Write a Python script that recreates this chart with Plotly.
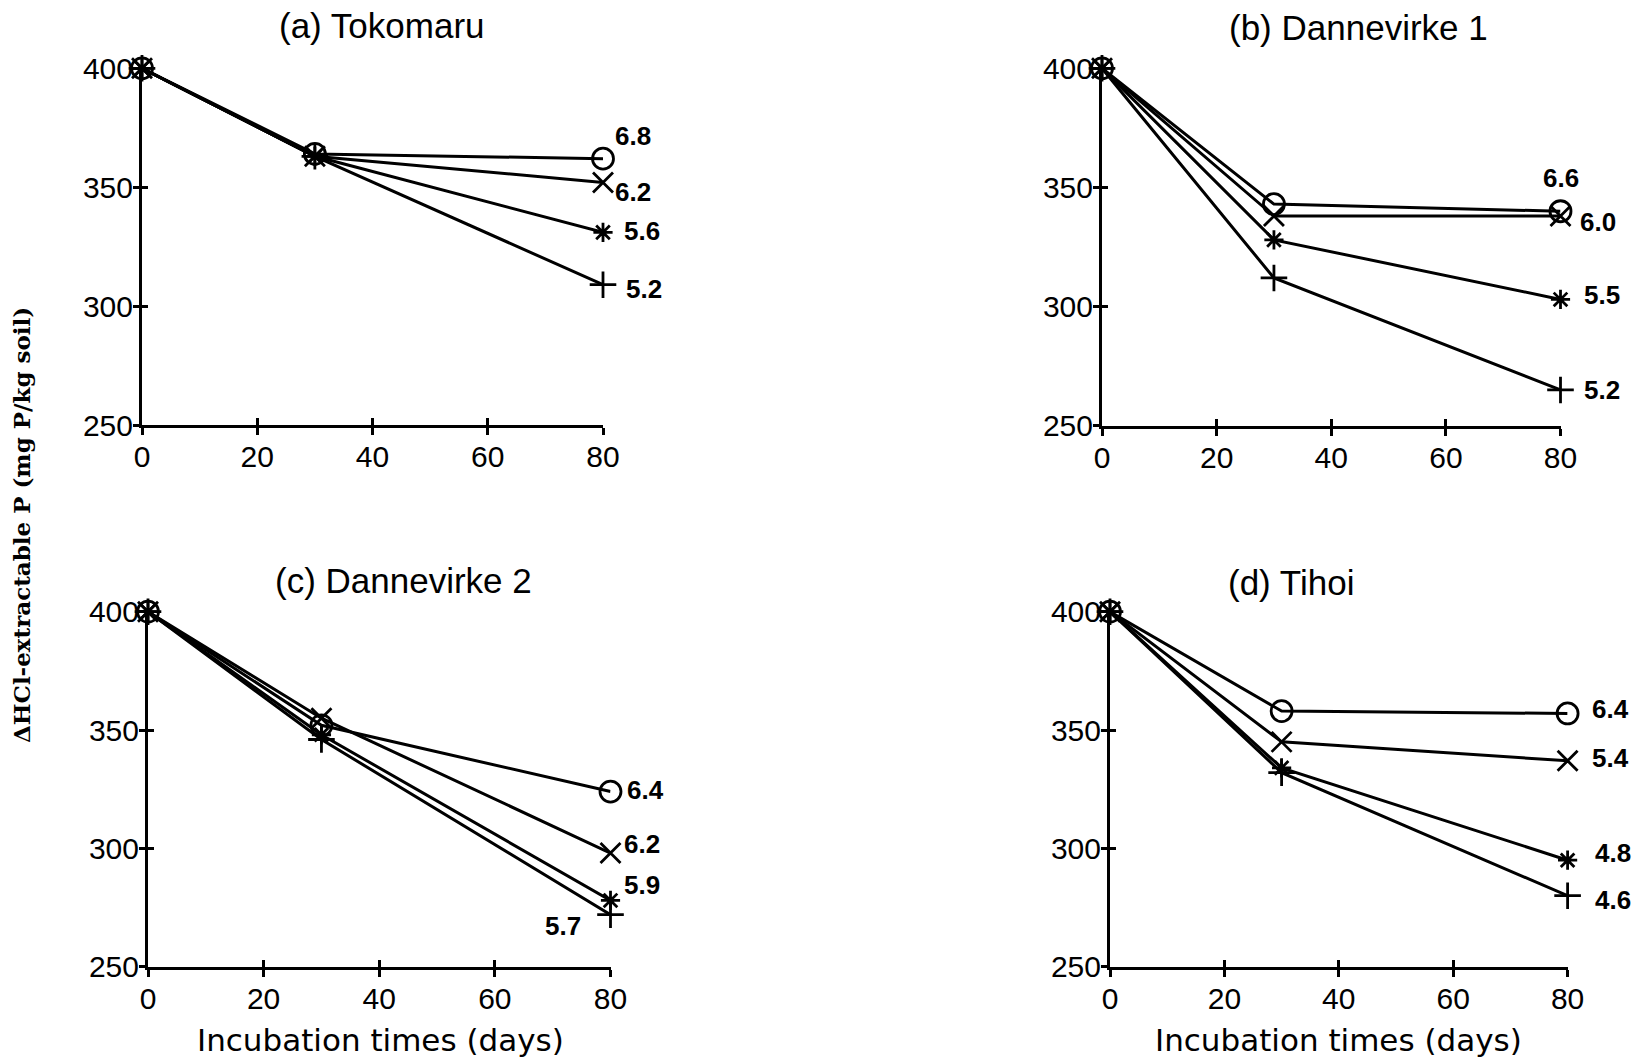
import plotly.graph_objects as go

days = [0, 30, 80]

# Panel data: series values (mg P/kg soil) for each pH treatment
a_circle = [400, 364, 362]
a_x = [400, 363, 352]
a_star = [400, 363, 331]
a_plus = [400, 363, 309]
a_labels = ["6.8", "6.2", "5.6", "5.2"]
a_label_y = [371.5, 348, 331.5, 307]

b_circle = [400, 343, 340]
b_x = [400, 338, 338]
b_star = [400, 328, 303]
b_plus = [400, 312, 265]
b_labels = ["6.6", "6.0", "5.5", "5.2"]
b_label_y = [354, 335.5, 305, 265]

c_circle = [400, 352, 324]
c_x = [400, 355, 298]
c_star = [400, 348, 278]
c_plus = [400, 346, 272]
c_labels = ["6.4", "6.2", "5.9", "5.7"]
c_label_y = [324.5, 302, 284.5, 267]

d_circle = [400, 358, 357]
d_x = [400, 345, 337]
d_star = [400, 334, 295]
d_plus = [400, 332, 280]
d_labels = ["6.4", "5.4", "4.8", "4.6"]
d_label_y = [359, 338, 298, 278]

titles = ["(a) Tokomaru", "(b) Dannevirke 1", "(c) Dannevirke 2", "(d) Tihoi"]
x_ticks = [0, 20, 40, 60, 80]
y_ticks = [250, 300, 350, 400]

W, H = 1645, 1060

panels = [
    dict(series=[a_circle, a_x, a_star, a_plus], labels=a_labels, label_y=a_label_y,
         xdom=[142 / W, 603 / W], ydom=[1 - 425 / H, 1 - 68.3 / H],
         lab_shift=[10, 10, 19, 21], lab_anchor=["left"] * 4),
    dict(series=[b_circle, b_x, b_star, b_plus], labels=b_labels, label_y=b_label_y,
         xdom=[1102 / W, 1560.5 / W], ydom=[1 - 425.7 / H, 1 - 68.3 / H],
         lab_shift=[0, 17, 21, 21], lab_anchor=["center", "left", "left", "left"]),
    dict(series=[c_circle, c_x, c_star, c_plus], labels=c_labels, label_y=c_label_y,
         xdom=[148 / W, 610.5 / W], ydom=[1 - 966.7 / H, 1 - 611.7 / H],
         lab_shift=[14, 11, 11, -28], lab_anchor=["left", "left", "left", "right"]),
    dict(series=[d_circle, d_x, d_star, d_plus], labels=d_labels, label_y=d_label_y,
         xdom=[1110 / W, 1567.6 / W], ydom=[1 - 966.7 / H, 1 - 611.7 / H],
         lab_shift=[22, 22, 25, 25], lab_anchor=["left"] * 4),
]

symbols = ["circle-open", "x-thin-open", "asterisk-open", "cross-thin-open"]
sizes = [21, 20, 16, 19]

fig = go.Figure()
annotations = []
layout = {}
tick_font = dict(family="Liberation Sans, Arial", size=30, color="black")
for i, p in enumerate(panels):
    n = "" if i == 0 else str(i + 1)
    xa, ya = "x" + n, "y" + n
    for s, sym, sz in zip(p["series"], symbols, sizes):
        fig.add_trace(go.Scatter(
            x=days, y=s, xaxis=xa, yaxis=ya, mode="lines+markers",
            line=dict(color="black", width=3),
            marker=dict(symbol=sym, size=sz, color="black",
                        line=dict(color="black", width=2.8)),
            cliponaxis=False, showlegend=False))
    for lab, ly, sh, anc in zip(p["labels"], p["label_y"], p["lab_shift"], p["lab_anchor"]):
        annotations.append(dict(
            x=80, y=ly, xref=xa, yref=ya, text=lab, showarrow=False,
            xanchor=anc, yanchor="middle", xshift=sh,
            font=dict(family="Liberation Sans, Arial", size=26, color="black", weight="bold")))
    layout["xaxis" + n] = dict(
        domain=p["xdom"], anchor=ya, range=[0, 80], tickvals=x_ticks,
        showline=True, linecolor="black", linewidth=3, ticks="outside",
        ticklen=7, tickwidth=3, tickcolor="black", showgrid=False, zeroline=False,
        ticklabelstandoff=-4, automargin=False, tickfont=tick_font)
    layout["yaxis" + n] = dict(
        domain=p["ydom"], anchor=xa, range=[250, 400], tickvals=y_ticks,
        showline=True, linecolor="black", linewidth=3, ticks="outside",
        ticklen=6, tickwidth=3, tickcolor="black", showgrid=False, zeroline=False,
        ticklabelstandoff=-6, automargin=False, tickfont=tick_font)
    # overlay axes giving the inner half of the crossing tick marks
    m = str(i + 5)
    layout["xaxis" + m] = dict(
        overlaying=xa, anchor=ya, range=[0, 80], tickvals=x_ticks,
        showline=False, ticks="inside", ticklen=7, tickwidth=3, tickcolor="black",
        showticklabels=False, showgrid=False, zeroline=False, automargin=False)
    layout["yaxis" + m] = dict(
        overlaying=ya, anchor=xa, range=[250, 400], tickvals=y_ticks,
        showline=False, ticks="inside", ticklen=6, tickwidth=3, tickcolor="black",
        showticklabels=False, showgrid=False, zeroline=False, automargin=False)
    fig.add_trace(go.Scatter(x=[None], y=[None], xaxis="x" + m, yaxis=ya,
                             showlegend=False, hoverinfo="skip"))
    fig.add_trace(go.Scatter(x=[None], y=[None], xaxis=xa, yaxis="y" + m,
                             showlegend=False, hoverinfo="skip"))

title_pos = [(382, 26), (1358, 28), (403, 580), (1291, 582)]
for t, (tx, ty) in zip(titles, title_pos):
    annotations.append(dict(
        x=tx / W, y=1 - ty / H, xref="paper", yref="paper", text=t, showarrow=False,
        xanchor="center", yanchor="middle",
        font=dict(family="Liberation Sans, Arial", size=35, color="black")))

for tx in (380, 1338):
    annotations.append(dict(
        x=tx / W, y=1 - 1040 / H, xref="paper", yref="paper",
        text="Incubation times (days)", showarrow=False,
        xanchor="center", yanchor="middle",
        font=dict(family="DejaVu Sans", size=31, color="black")))

annotations.append(dict(
    x=22 / W, y=1 - 525 / H, xref="paper", yref="paper",
    text="ΔHCl-extractable P (mg P/kg soil)", showarrow=False, textangle=-90,
    xanchor="center", yanchor="middle",
    font=dict(family="DejaVu Serif", size=23, color="black", weight="bold")))

fig.update_layout(
    width=W, height=H, margin=dict(l=0, r=0, t=0, b=0),
    plot_bgcolor="white", paper_bgcolor="white",
    annotations=annotations, **layout)

fig.write_html("out.html")
